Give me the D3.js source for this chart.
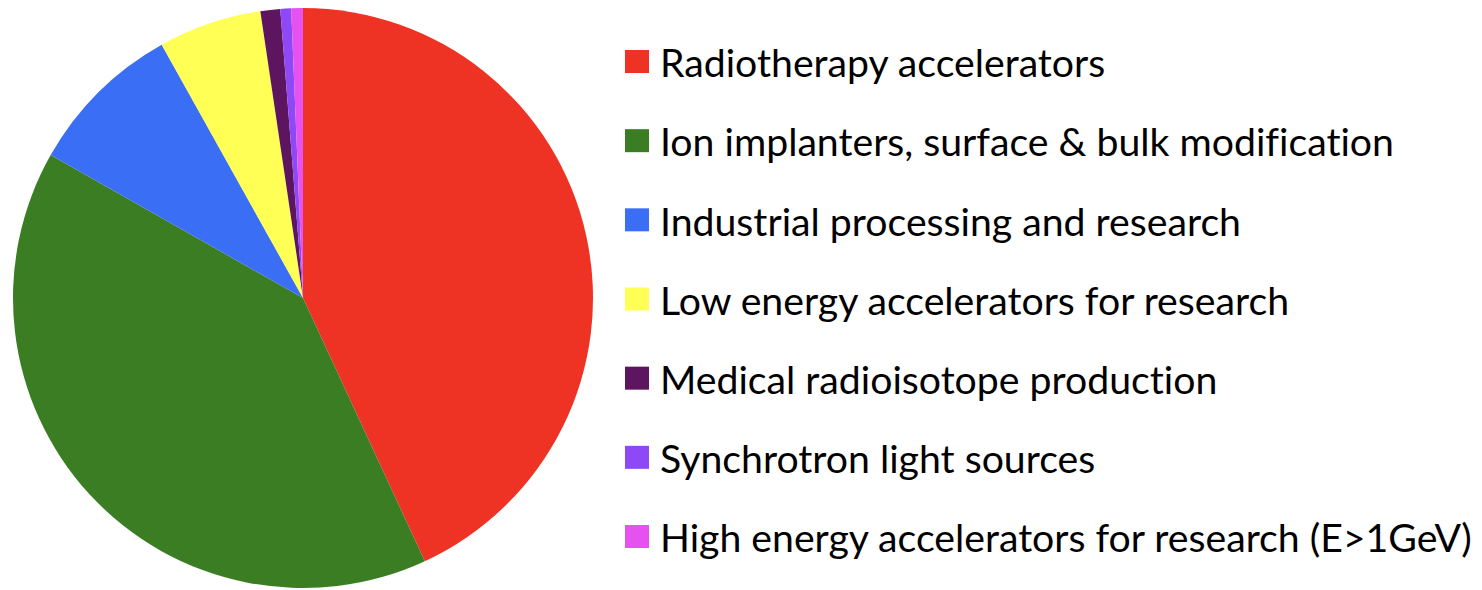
<!DOCTYPE html>
<html><head><meta charset="utf-8">
<script src="https://cdn.jsdelivr.net/npm/d3@7"></script>
<style>body{margin:0;background:#fff}svg{display:block}text{font-variant-ligatures:none;font-feature-settings:"liga" 0}</style>
</head><body>
<svg id="c" width="1482" height="590"></svg>
<script>
const categories = [
  "Radiotherapy accelerators",
  "Ion implanters, surface & bulk modification",
  "Industrial processing and research",
  "Low energy accelerators for research",
  "Medical radioisotope production",
  "Synchrotron light sources",
  "High energy accelerators for research (E>1GeV)"
];
const values = [43.1, 40.1, 8.7, 5.75, 1.1, 0.6, 0.65];
const colors = ["#ee3224", "#3a7d23", "#3a6ef5", "#ffff55", "#5e1560", "#8e48f5", "#e552f0"];

const svg = d3.select("#c");
const cx = 303, cy = 298, r = 290;
const pie = d3.pie().sort(null).value(d => d.v);
const arc = d3.arc().innerRadius(0).outerRadius(r);
const data = categories.map((c, i) => ({c, v: values[i], col: colors[i]}));
svg.append("g").attr("transform", `translate(${cx},${cy})`)
  .selectAll("path").data(pie(data)).join("path")
  .attr("d", arc).attr("fill", d => d.data.col);

const y = d3.scalePoint().domain(categories).range([61.5, 536.5]);
const fontSize = 31;
const lg = svg.append("g");
const items = lg.selectAll("g").data(data).join("g")
  .attr("transform", d => `translate(625,${y(d.c)})`);
items.append("rect").attr("x", 0).attr("y", -11.5).attr("width", 24).attr("height", 23).attr("fill", d => d.col);
const texts = items.append("text").attr("x", 35).attr("dy", "0.4em")
  .attr("font-family", "Lato, 'Open Sans', sans-serif").attr("font-size", fontSize)
  .attr("fill", "#000").text(d => d.c);
let maxW = 0; texts.each(function(){ maxW = Math.max(maxW, this.getComputedTextLength()); });
const fs = fontSize * 812 / maxW;
texts.attr("font-size", fs);
</script>
</body></html>
